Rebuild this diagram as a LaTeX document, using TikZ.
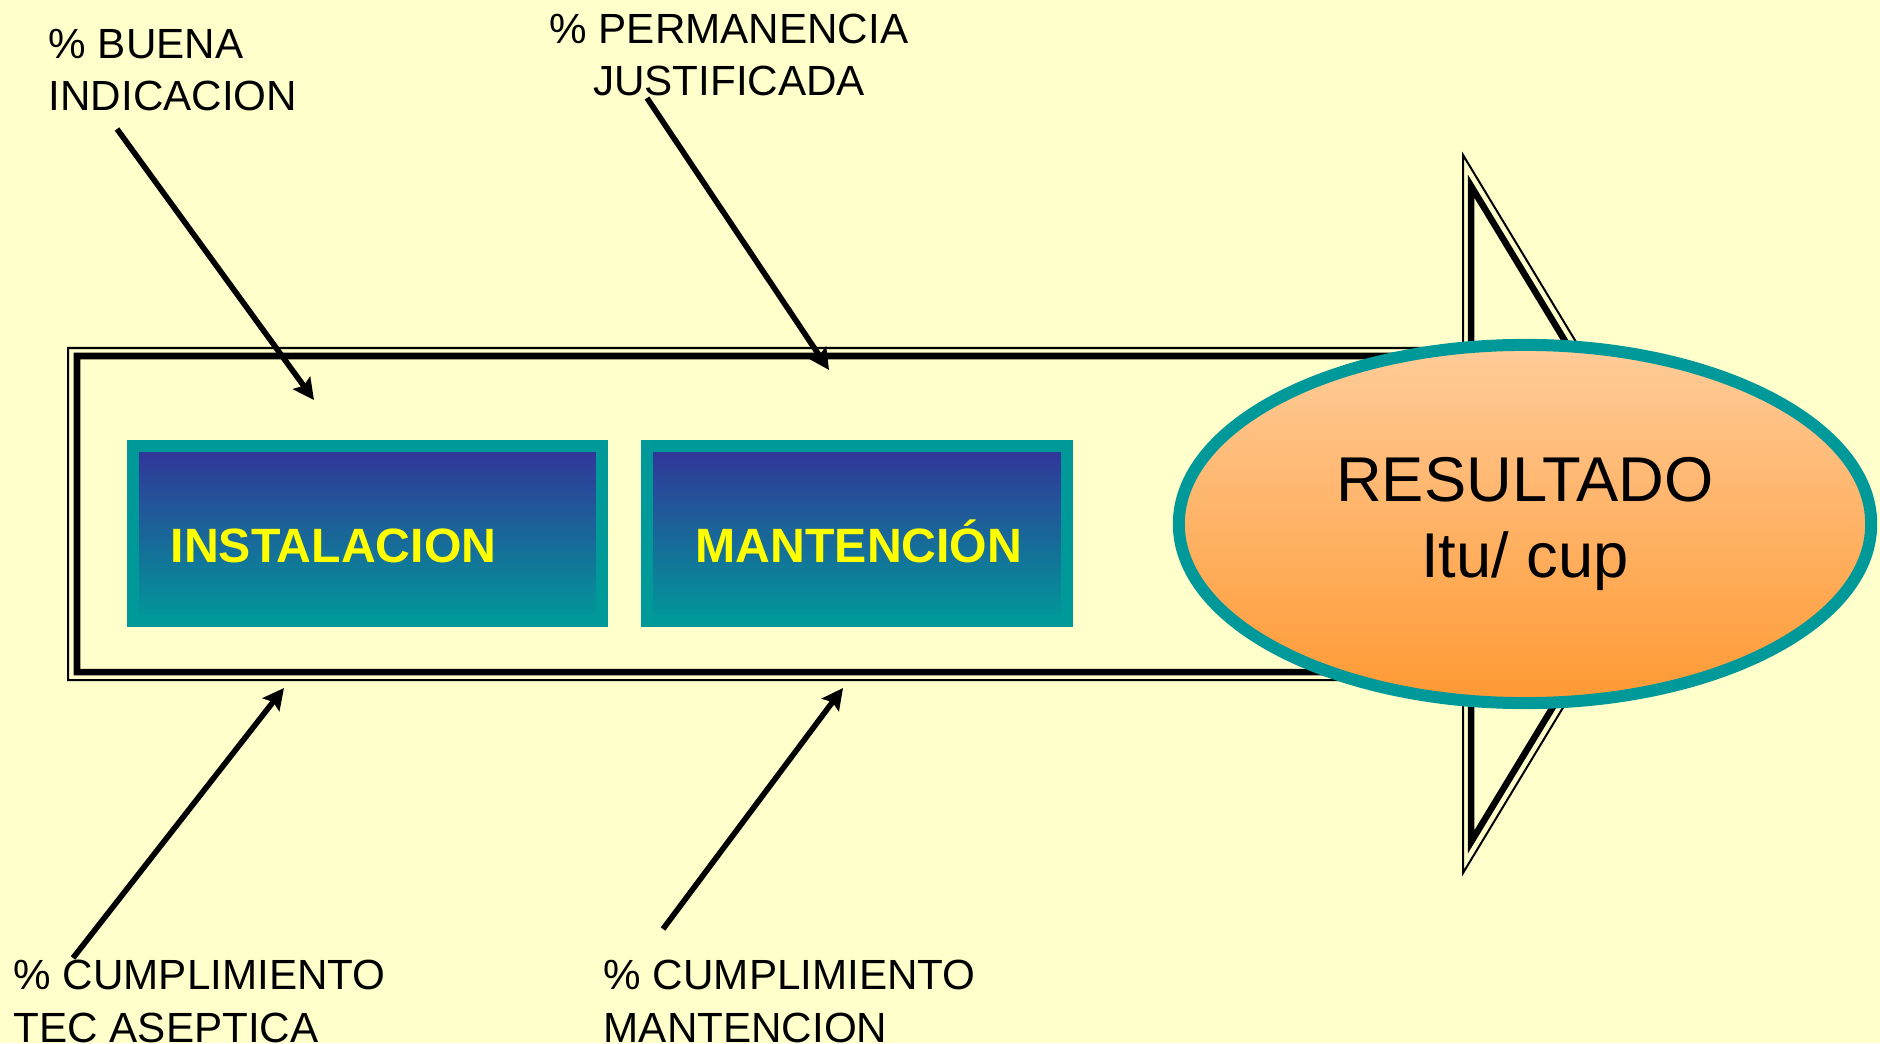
\documentclass[tikz,border=0pt]{standalone}
\usepackage{fontspec}
\setmainfont{Liberation Sans}
\usetikzlibrary{arrows.meta,shapes.geometric}
\definecolor{paper}{HTML}{FFFFCC}
\definecolor{tealb}{HTML}{009999}
\definecolor{navyb}{HTML}{333399}
\definecolor{peach}{HTML}{FFCC99}
\definecolor{orangeb}{HTML}{FF9933}
\definecolor{yellowb}{HTML}{FFFF00}

\begin{document}
\begin{tikzpicture}[x=0.01cm,y=-0.01cm,
    lbl/.style={font=\fontsize{12}{14.8}\selectfont, inner sep=0pt},
    ptr/.style={line width=1.6pt, -{Stealth[length=6pt,width=6pt,inset=1pt]}},
    stagebox/.style={draw=tealb, line width=0.12cm, top color=navyb, bottom color=tealb,
        minimum height=1.75cm, inner sep=0pt},
    stagetxt/.style={font=\fontsize{13.7}{16}\selectfont\bfseries, text=yellowb, inner sep=0pt, anchor=base west},
    result/.style={ellipse, draw=tealb, line width=0.12cm, top color=peach, bottom color=orangeb,
        minimum width=6.92cm, minimum height=3.58cm, inner sep=0pt, align=center,
        font=\fontsize{18}{21.6}\selectfont}]
    \fill[paper] (0,0) rectangle (1880,1043);
    \useasboundingbox (0,0) rectangle (1880,1043);

    \draw[line width=0.02cm, miter limit=20] (68,348) -- (1463,348) -- (1463,155) -- (1680,514)
        -- (1463,873) -- (1463,680) -- (68,680) -- cycle;
    \draw[line width=0.065cm, miter limit=20] (77,356) -- (1471,356) -- (1471,186) -- (1670,514)
        -- (1471,842) -- (1471,672) -- (77,672) -- cycle;

    \node[stagebox, minimum width=4.69cm] (inst) at (367.5,533.5) {};
    \node[stagetxt] (insttxt) at (170,562.7) {INSTALACION};
    \node[stagebox, minimum width=4.20cm] (mant) at (857,533.5) {};
    \node[stagetxt, anchor=base] (manttxt) at (859,562.7) {MANTENCIÓN};

    \node[result] (res) at (1525,524) {RESULTADO\\Itu/ cup};

    \node[lbl, align=left, anchor=base west] (buena) at (48,111) {\% BUENA\\INDICACION};
    \node[lbl, align=center, anchor=base] (perm) at (729,96) {\% PERMANENCIA\\JUSTIFICADA};
    \node[lbl, align=left, anchor=base west] (tec) at (13,1042) {\% CUMPLIMIENTO\\TEC ASEPTICA};
    \node[lbl, align=left, anchor=base west] (mantlbl) at (603,1042) {\% CUMPLIMIENTO\\MANTENCION};

    \coordinate (buena-s) at (117,129);
    \coordinate (buena-e) at (314,400);
    \coordinate (perm-s) at (647,98);
    \coordinate (perm-e) at (829,370);
    \coordinate (tec-s) at (73,958);
    \coordinate (tec-e) at (284,688);
    \coordinate (mant-s) at (663,929);
    \coordinate (mant-e) at (843,688);

    \draw[ptr] (buena-s) -- (buena-e);
    \draw[ptr] (perm-s) -- (perm-e);
    \draw[ptr] (tec-s) -- (tec-e);
    \draw[ptr] (mant-s) -- (mant-e);
\end{tikzpicture}
\end{document}
